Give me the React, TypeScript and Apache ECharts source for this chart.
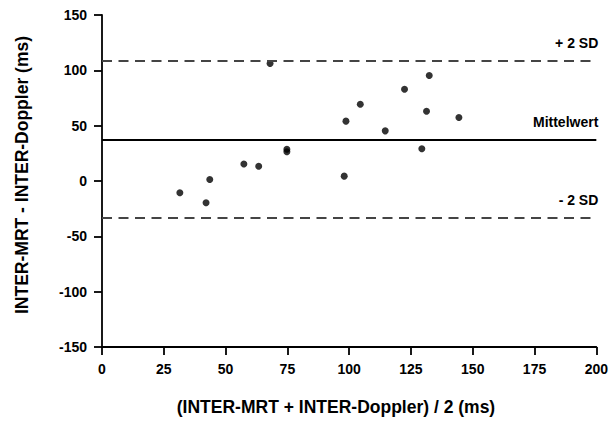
import React, { useEffect, useRef } from "react";
import * as echarts from "echarts";

// Mean of the two methods (x) and their difference (y), in ms
const meanValues = [31.5, 42.1, 43.6, 57.4, 63.4, 68.0, 74.8, 74.8, 98.0, 98.7, 104.5, 114.6, 122.4, 129.4, 131.3, 132.4, 144.4];
const diffValues = [-10.6, -19.7, 1.4, 15.3, 13.4, 106.1, 28.7, 26.4, 4.4, 54.1, 69.4, 45.3, 82.9, 29.1, 63.1, 95.3, 57.4];

// Reference lines: mean difference and limits of agreement
const meanDiff = 37.5;
const upperLimit = 108.5;
const lowerLimit = -33.5;
const lineLabels = ["+ 2 SD", "Mittelwert", "- 2 SD"];

const xTitle = "(INTER-MRT + INTER-Doppler) / 2 (ms)";
const yTitle = "INTER-MRT - INTER-Doppler (ms)";

const FONT = "Liberation Sans, Arial, Helvetica, sans-serif";

export default function App() {
  const ref = useRef<HTMLDivElement>(null);

  useEffect(() => {
    if (!ref.current) return;
    const chart = echarts.init(ref.current, undefined, { renderer: "svg" });

    const points = meanValues.map((x, i) => [x, diffValues[i]]);
    const lineLabel = {
      position: "insideEndTop",
      distance: [-2, 11],
      color: "#000",
      fontFamily: FONT,
      fontWeight: "bold",
      fontSize: 14,
    };
    const dashed = { type: [10, 6.5], color: "#444", width: 2 };

    chart.setOption({
      animation: false,
      backgroundColor: "#fff",
      grid: { left: 102, right: 12, top: 15, bottom: 90 },
      xAxis: {
        type: "value",
        min: 0,
        max: 200,
        interval: 25,
        axisLine: { onZero: false, lineStyle: { color: "#000", width: 1.8 } },
        axisTick: { length: 8, lineStyle: { color: "#000", width: 1.8 } },
        axisLabel: { margin: 15, color: "#000", fontFamily: FONT, fontWeight: "bold", fontSize: 14 },
        splitLine: { show: false },
      },
      yAxis: {
        type: "value",
        min: -150,
        max: 150,
        interval: 50,
        axisLine: { show: true, onZero: false, lineStyle: { color: "#000", width: 1.8 } },
        axisTick: { show: true, length: 8, lineStyle: { color: "#000", width: 1.8 } },
        axisLabel: { margin: 15, color: "#000", fontFamily: FONT, fontWeight: "bold", fontSize: 14 },
        splitLine: { show: false },
      },
      graphic: [
        {
          type: "text",
          x: 336,
          y: 407,
          style: {
            text: xTitle,
            fill: "#000",
            font: `bold 17.5px ${FONT}`,
            align: "center",
            verticalAlign: "middle",
          },
        },
        {
          type: "text",
          x: 22,
          y: 175,
          rotation: Math.PI / 2,
          style: {
            text: yTitle,
            fill: "#000",
            font: `bold 17.5px ${FONT}`,
            align: "center",
            verticalAlign: "middle",
          },
        },
      ],
      series: [
        {
          type: "scatter",
          data: points,
          symbol: "circle",
          symbolSize: 7,
          itemStyle: { color: "#000" },
          markLine: {
            silent: true,
            symbol: "none",
            data: [
              { yAxis: upperLimit, name: lineLabels[0], lineStyle: dashed, label: { ...lineLabel, formatter: lineLabels[0] } },
              {
                yAxis: meanDiff,
                name: lineLabels[1],
                lineStyle: { type: "solid", color: "#000", width: 2 },
                label: { ...lineLabel, formatter: lineLabels[1] },
              },
              { yAxis: lowerLimit, name: lineLabels[2], lineStyle: dashed, label: { ...lineLabel, formatter: lineLabels[2] } },
            ],
          },
        },
      ],
    });

    return () => chart.dispose();
  }, []);

  return (
    <div
      ref={ref}
      style={{ position: "fixed", left: 0, top: 0, width: 611, height: 437, background: "#fff" }}
    />
  );
}
